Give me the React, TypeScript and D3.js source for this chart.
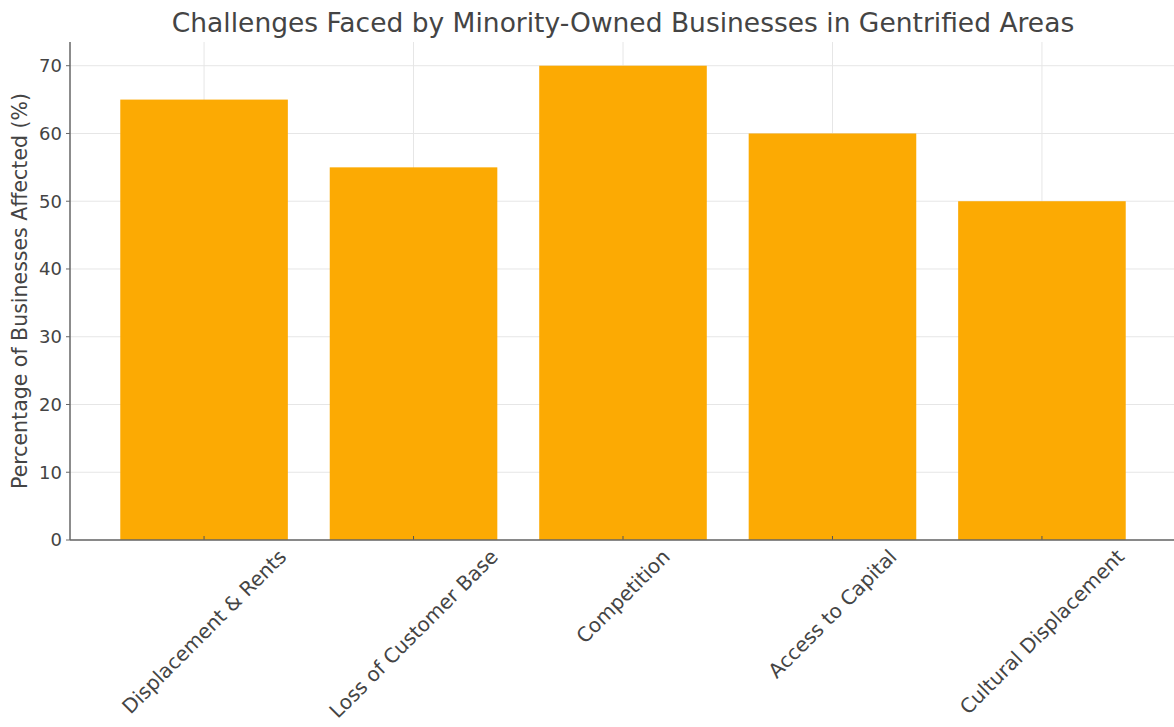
import React, { useEffect, useRef } from "react";
import * as d3 from "d3";

const categories = [
  "Displacement & Rents",
  "Loss of Customer Base",
  "Competition",
  "Access to Capital",
  "Cultural Displacement",
];
const values = [65, 55, 70, 60, 50];
const yTicks = [0, 10, 20, 30, 40, 50, 60, 70];
const title = "Challenges Faced by Minority-Owned Businesses in Gentrified Areas";
const yLabel = "Percentage of Businesses Affected (%)";

const W = 1174;
const H = 727;
const M = { left: 70, right: 1176, top: 42, bottom: 540 };
const FONT = "'DejaVu Sans', sans-serif";
const TEXT = "#444";
const BAR = "#fcaa03";

export default function App() {
  const ref = useRef<SVGSVGElement | null>(null);

  useEffect(() => {
    const svg = d3.select(ref.current);
    svg.selectAll("*").remove();

    const x = d3
      .scaleBand<string>()
      .domain(categories)
      .range([M.left, M.right])
      .paddingInner(0.2)
      .paddingOuter(0.24);
    const y = d3.scaleLinear().domain([0, 73.5]).range([M.bottom, M.top]);

    // grid
    const grid = svg.append("g");
    grid
      .selectAll("line.h")
      .data(yTicks)
      .join("line")
      .attr("x1", M.left)
      .attr("x2", M.right)
      .attr("y1", (d) => y(d))
      .attr("y2", (d) => y(d))
      .attr("stroke", "#e6e6e6")
      .attr("stroke-width", 1);
    grid
      .selectAll("line.v")
      .data(categories)
      .join("line")
      .attr("x1", (d) => x(d)! + x.bandwidth() / 2)
      .attr("x2", (d) => x(d)! + x.bandwidth() / 2)
      .attr("y1", M.top)
      .attr("y2", M.bottom)
      .attr("stroke", "#e6e6e6")
      .attr("stroke-width", 1);

    // bars
    svg
      .append("g")
      .selectAll("rect")
      .data(values)
      .join("rect")
      .attr("x", (_, i) => x(categories[i])!)
      .attr("width", x.bandwidth())
      .attr("y", (d) => y(d))
      .attr("height", (d) => y(0) - y(d))
      .attr("fill", BAR);

    // x ticks (inward)
    svg
      .append("g")
      .selectAll("line")
      .data(categories)
      .join("line")
      .attr("x1", (d) => x(d)! + x.bandwidth() / 2)
      .attr("x2", (d) => x(d)! + x.bandwidth() / 2)
      .attr("y1", M.bottom)
      .attr("y2", M.bottom - 4)
      .attr("stroke", "#555")
      .attr("stroke-width", 1);

    // y ticks
    svg
      .append("g")
      .selectAll("line")
      .data(yTicks)
      .join("line")
      .attr("x1", M.left - 4)
      .attr("x2", M.left)
      .attr("y1", (d) => y(d))
      .attr("y2", (d) => y(d))
      .attr("stroke", "#666")
      .attr("stroke-width", 1);

    svg
      .append("g")
      .selectAll("text")
      .data(yTicks)
      .join("text")
      .attr("x", M.left - 8)
      .attr("y", (d) => y(d))
      .attr("dy", "0.35em")
      .attr("text-anchor", "end")
      .attr("font-family", FONT)
      .attr("font-size", 18)
      .attr("fill", TEXT)
      .text((d) => String(d));

    // spines
    svg
      .append("line")
      .attr("x1", M.left)
      .attr("x2", M.left)
      .attr("y1", M.top)
      .attr("y2", M.bottom)
      .attr("stroke", "#666")
      .attr("stroke-width", 1.5);
    svg
      .append("line")
      .attr("x1", M.left)
      .attr("x2", M.right)
      .attr("y1", M.bottom)
      .attr("y2", M.bottom)
      .attr("stroke", "#666")
      .attr("stroke-width", 1.5);

    // x labels rotated 45, centered on tick
    const fs = 20;
    const xl = svg.append("g");
    categories.forEach((c) => {
      const t = xl
        .append("text")
        .attr("font-family", FONT)
        .attr("font-size", fs)
        .attr("fill", TEXT)
        .attr("text-anchor", "middle")
        .attr("dy", "0.35em")
        .text(c);
      const w = (t.node() as SVGTextElement).getComputedTextLength();
      const h = fs * 1.0;
      const half = ((w + h) * Math.SQRT1_2) / 2;
      const cx = x(c)! + x.bandwidth() / 2;
      const cy = M.bottom + 6 + half;
      t.attr("transform", `translate(${cx},${cy}) rotate(-45)`);
    });

    // y label
    svg
      .append("text")
      .attr("transform", `translate(27,${(M.top + M.bottom) / 2}) rotate(-90)`)
      .attr("text-anchor", "middle")
      .attr("font-family", FONT)
      .attr("font-size", 20.5)
      .attr("fill", TEXT)
      .text(yLabel);

    // title
    svg
      .append("text")
      .attr("x", (M.left + M.right) / 2)
      .attr("y", 32)
      .attr("text-anchor", "middle")
      .attr("font-family", FONT)
      .attr("font-size", 26.5)
      .attr("fill", TEXT)
      .text(title);
  }, []);

  return (
    <svg
      ref={ref}
      width={W}
      height={H}
      style={{ position: "absolute", left: 0, top: 0, background: "#fff" }}
    />
  );
}
